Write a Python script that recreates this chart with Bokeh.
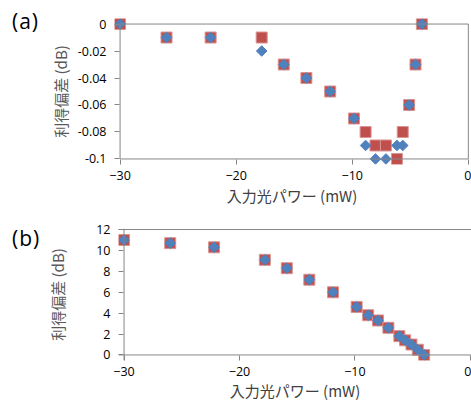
import math
from bokeh.plotting import figure
from bokeh.layouts import column, row
from bokeh.models import (ColumnDataSource, FixedTicker, CustomJSTickFormatter,
                          BoxAnnotation, Span, Div, Range1d)
from bokeh.embed import file_html
from bokeh.resources import INLINE

# ---- data ----
power_mw = [-30, -26, -22.2, -17.8, -15.9, -13.95, -11.9, -9.85, -8.85, -8.0,
            -7.1, -6.15, -5.65, -5.1, -4.55, -4.0]
dev_a_red = [0, -0.01, -0.01, -0.01, -0.03, -0.04, -0.05, -0.07, -0.08, -0.09,
             -0.09, -0.1, -0.08, -0.06, -0.03, 0]
dev_a_blue = [0, -0.01, -0.01, -0.02, -0.03, -0.04, -0.05, -0.07, -0.09, -0.1,
              -0.1, -0.09, -0.09, -0.06, -0.03, 0]
dev_b_red = [11.0, 10.7, 10.3, 9.1, 8.3, 7.2, 6.0, 4.6, 3.8, 3.3, 2.6, 1.8,
             1.4, 1.0, 0.5, 0.0]
dev_b_blue = [11.0, 10.7, 10.3, 9.1, 8.3, 7.2, 6.0, 4.6, 3.8, 3.3, 2.6, 1.8,
              1.4, 1.0, 0.5, 0.0]
x_ticks = [-30, -20, -10, 0]
y_ticks_a = [0, -0.02, -0.04, -0.06, -0.08, -0.1]
y_ticks_b = [0, 2, 4, 6, 8, 10, 12]
x_min, x_max = -30, 0
ya_min, ya_max = -0.1, 0
yb_min, yb_max = 0, 12
x_title = "入力光パワー (mW)"
y_title = "利得偏差 (dB)"
panel_a = "(a)"
panel_b = "(b)"

RED = "#C0504D"
BLUE = "#4F81BD"
AXIS = "#868686"
FONT = "Open Sans"
JP = "Noto Sans CJK JP"
TICK = 5
DIV_W = 44


def style_axes(p, y_ticks, y_fmt, ylab_standoff, xlab_standoff):
    xa = p.xaxis[0]
    ya = p.yaxis[0]
    xa.ticker = FixedTicker(ticks=x_ticks)
    ya.ticker = FixedTicker(ticks=y_ticks)
    if y_fmt is not None:
        ya.formatter = y_fmt
    for ax in (xa, ya):
        ax.axis_line_color = None
        ax.major_tick_line_color = AXIS
        ax.minor_tick_line_color = None
        ax.major_tick_in = TICK
        ax.major_tick_out = 0
        ax.major_label_text_font = FONT
        ax.major_label_text_font_size = "12.5px"
        ax.major_label_text_color = "#000000"
        ax.axis_label_text_font = JP
        ax.axis_label_text_font_style = "normal"
        ax.axis_label_text_font_size = "15px"
    xa.major_label_standoff = 6
    ya.major_label_standoff = 8
    xa.axis_label = x_title
    xa.axis_label_text_color = "#404040"
    xa.axis_label_standoff = xlab_standoff
    ya.axis_label = y_title
    ya.axis_label_text_color = "#595959"
    ya.axis_label_standoff = ylab_standoff
    p.xgrid.grid_line_color = None
    p.ygrid.grid_line_color = None
    p.outline_line_color = None
    p.background_fill_color = "white"
    p.border_fill_color = "white"


def add_points(p, src):
    p.scatter("x", "red", source=src, marker="square", size=11,
              fill_color=RED, line_color="#D99694", line_width=1)
    p.scatter("x", "blue", source=src, marker="square", size=7.5,
              angle=math.pi / 4, fill_color=BLUE, line_color=BLUE, line_width=1)


def label_div(text, top_pad):
    return Div(text=text, width=DIV_W, height=44, margin=(0, 0, 0, 0),
               styles={"font-family": FONT, "font-size": "21px",
                       "letter-spacing": "1px", "white-space": "nowrap",
                       "color": "#000000", "padding-left": "12px",
                       "padding-top": f"{top_pad}px", "line-height": "1.3"})


# ---- panel (a) ----
src_a = ColumnDataSource(dict(x=power_mw, red=dev_a_red, blue=dev_a_blue))
pa = figure(width=471 - DIV_W, height=211, output_backend="svg",
            toolbar_location=None,
            x_range=Range1d(x_min - 0.48, x_max + 0.1),
            y_range=Range1d(ya_min - 0.0041, ya_max + 0.0041),
            min_border_left=114 - DIV_W, min_border_right=2, min_border_top=18,
            min_border_bottom=47)
style_axes(pa, y_ticks_a,
           CustomJSTickFormatter(code="return String(Math.round(tick*100)/100);"),
           4, 2)
pa.add_layout(BoxAnnotation(left=x_min, right=x_max, bottom=ya_min, top=ya_max,
                            fill_color=None, fill_alpha=0, line_color=AXIS,
                            line_alpha=1, line_width=1, line_dash="solid"))
add_points(pa, src_a)

# ---- panel (b) ----
src_b = ColumnDataSource(dict(x=power_mw, red=dev_b_red, blue=dev_b_blue))
pb = figure(width=471 - DIV_W, height=194, output_backend="svg",
            toolbar_location=None,
            x_range=Range1d(x_min - 0.48, x_max + 0.1),
            y_range=Range1d(yb_min - 0.53, yb_max + 0.1),
            min_border_left=117 - DIV_W, min_border_right=0, min_border_top=17,
            min_border_bottom=45)
style_axes(pb, y_ticks_b, None, 25, 1)
for loc, dim in ((yb_min, "width"), (yb_max, "width"), (x_min, "height")):
    pb.add_layout(Span(location=loc, dimension=dim, line_color=AXIS,
                       line_width=1))
add_points(pb, src_b)

layout = column(row(label_div(panel_a, 8), pa),
                row(label_div(panel_b, 14), pb))
open("out.html", "w").write(file_html(layout, INLINE))
